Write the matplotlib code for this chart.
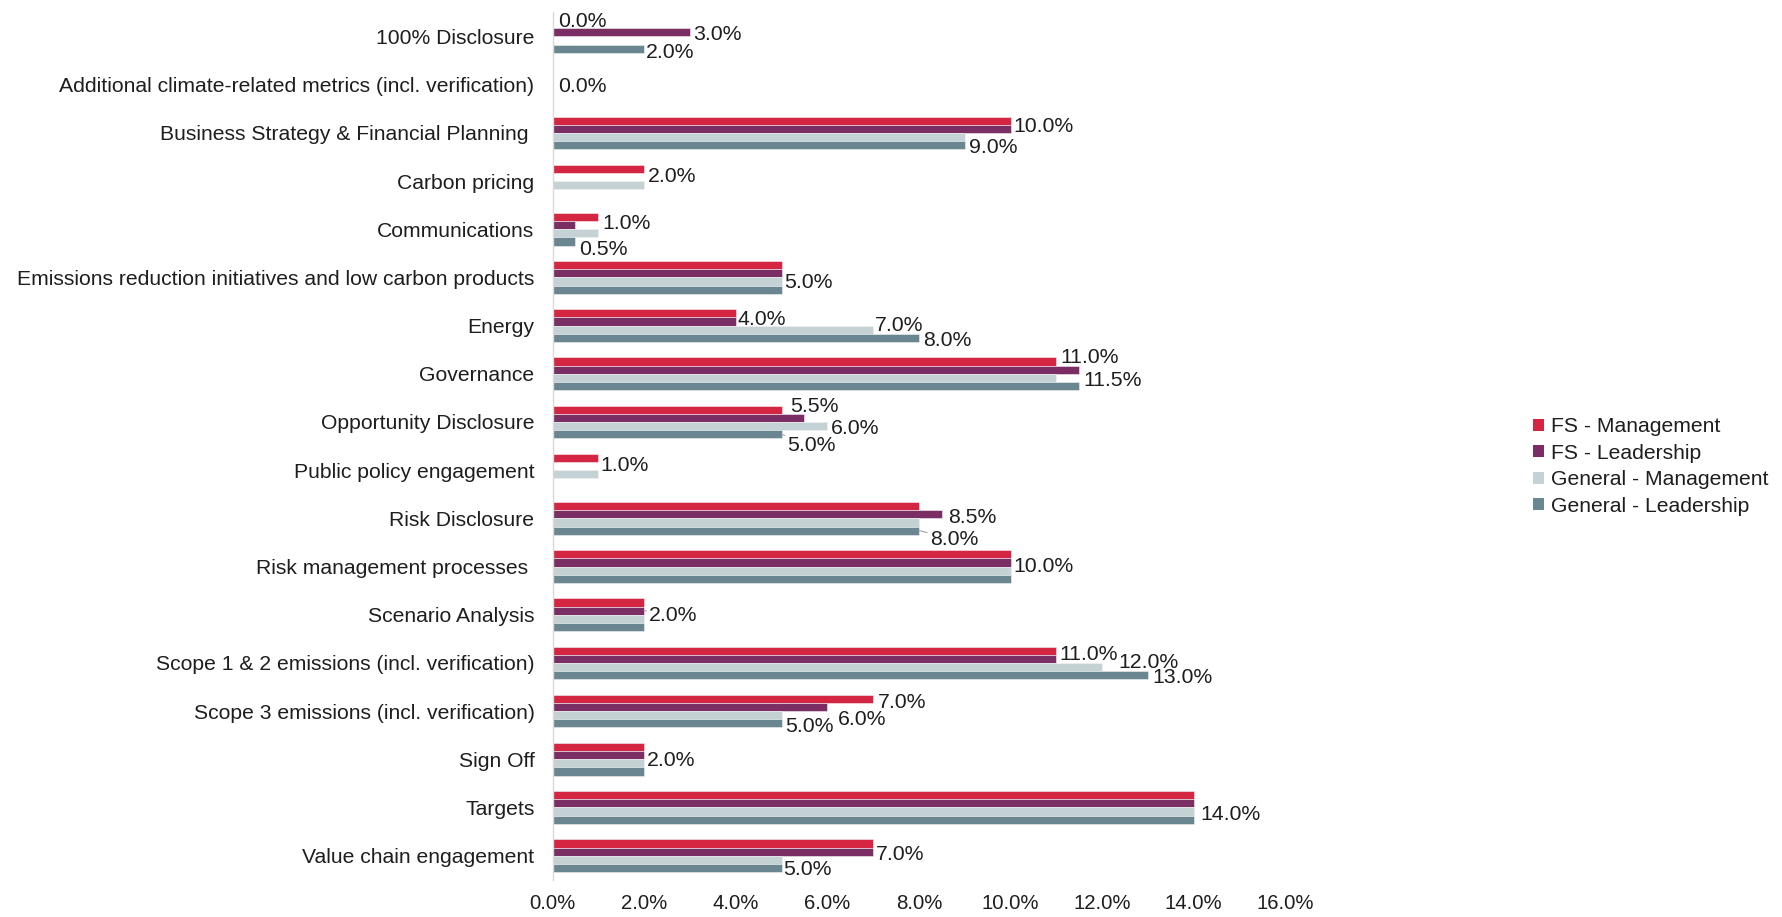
import matplotlib
matplotlib.use("Agg")
import matplotlib.pyplot as plt
from matplotlib.patches import Patch
import numpy as np

categories = [
    "100% Disclosure",
    "Additional climate-related metrics (incl. verification)",
    "Business Strategy & Financial Planning ",
    "Carbon pricing",
    "Communications",
    "Emissions reduction initiatives and low carbon products",
    "Energy",
    "Governance",
    "Opportunity Disclosure",
    "Public policy engagement",
    "Risk Disclosure",
    "Risk management processes ",
    "Scenario Analysis",
    "Scope 1 & 2 emissions (incl. verification)",
    "Scope 3 emissions (incl. verification)",
    "Sign Off",
    "Targets",
    "Value chain engagement",
]

series_names = ["FS - Management", "FS - Leadership", "General - Management", "General - Leadership"]

fs_management = [0, 0, 10, 2, 1, 5, 4, 11, 5, 1, 8, 10, 2, 11, 7, 2, 14, 7]
fs_leadership = [3, 0, 10, 0, 0.5, 5, 4, 11.5, 5.5, 0, 8.5, 10, 2, 11, 6, 2, 14, 7]
general_management = [0, 0, 9, 2, 1, 5, 7, 11, 6, 1, 8, 10, 2, 12, 5, 2, 14, 5]
general_leadership = [2, 0, 9, 0, 0.5, 5, 8, 11.5, 5, 0, 8, 10, 2, 13, 5, 2, 14, 5]

x_ticks = [0, 2, 4, 6, 8, 10, 12, 14, 16]

colors = ["#D42642", "#7B2E63", "#C4D1D5", "#6A8690"]

# data label placement: (category index, series index, dx px, dy px downward, leader line)
label_specs = [
    (0, 0, 6, -4, False), (0, 1, 3, 0.5, False), (0, 3, 2, 2.5, False),
    (1, 1, 6, 4.5, False),
    (2, 0, 2.5, 4, False), (2, 3, 4, 1, False),
    (3, 0, 4, 6.5, False),
    (4, 0, 4, 5, False), (4, 3, 4, 7, False),
    (5, 2, 2.5, -1, False),
    (6, 1, 2, -4, False), (6, 2, 2, -5.4, False), (6, 3, 3.7, 1, False),
    (7, 0, 4.3, -6, False), (7, 3, 4.6, -6.7, False),
    (8, 1, -14.3, -12.7, False), (8, 2, 3.7, 1, False), (8, 3, 6, 10, True),
    (9, 0, 2, 6.5, False),
    (10, 1, 6.6, 2, False), (10, 3, 11, 7, True),
    (11, 1, 3, 2.5, False),
    (12, 1, 5, 3.5, True),
    (13, 0, 3, 2, False), (13, 2, 16, -6.5, False), (13, 3, 4.4, 0.5, False),
    (14, 0, 5, 2, False), (14, 1, 11, 10.5, False), (14, 3, 4, 2, False),
    (15, 1, 3, 4, False),
    (16, 2, 7, 1.5, False),
    (17, 1, 3, 1, False), (17, 3, 2, 0, False),
]

plt.rcParams["font.family"] = ["Liberation Sans", "DejaVu Sans"]
text_color = "#1e1e1e"

fig = plt.figure(figsize=(17.83, 9.17), dpi=100)
ax = fig.add_axes([0.3099, 0.0406, 0.7209 - 0.3099, 0.9865 - 0.0406])

data = [fs_management, fs_leadership, general_management, general_leadership]
n = len(categories)
y = np.arange(n)
h = 0.1696
for j, (vals, col, name) in enumerate(zip(data, colors, series_names)):
    ax.barh(y + (j - 1.5) * h, vals, height=h, color=col, edgecolor="#f2f2f2",
            linewidth=0.4, label=name)

for cat, s, dx, dy, leader in label_specs:
    val = data[s][cat]
    ypos = cat + (s - 1.5) * h
    kw = {}
    if leader:
        kw["arrowprops"] = dict(arrowstyle="-", color="#a6a6a6", lw=0.8,
                                shrinkA=0, shrinkB=0)
    ax.annotate(f"{val:.1f}%", xy=(val, ypos), xytext=(dx, -(dy + 1.5)),
                textcoords="offset pixels", ha="left", va="center",
                fontsize=15.3, color=text_color, **kw)

ax.set_xlim(0, 16)
ax.set_ylim(n - 0.5, -0.5)
ax.set_yticks(y)
ax.set_yticklabels(categories, fontsize=15.2, color=text_color)
ax.set_xticks(x_ticks)
ax.set_xticklabels([f"{t:.1f}%" for t in x_ticks], fontsize=14.7, color=text_color)
ax.tick_params(axis="x", length=0, pad=10)
ax.tick_params(axis="y", length=0, pad=13)
for sp in ["top", "right", "bottom"]:
    ax.spines[sp].set_visible(False)
ax.spines["left"].set_color("#d9d9d9")
ax.spines["left"].set_linewidth(1.0)

handles = [Patch(facecolor=c, edgecolor="none") for c in colors]
fig.legend(handles, series_names, loc="center left",
           bbox_to_anchor=(1533 / 1783, 1 - 466.5 / 917),
           frameon=False, fontsize=15.2, borderpad=0, borderaxespad=0,
           handlelength=0.5, handleheight=0.5, handletextpad=0.35,
           labelspacing=0.36, labelcolor=text_color)

fig.savefig("out.png", dpi=100)
